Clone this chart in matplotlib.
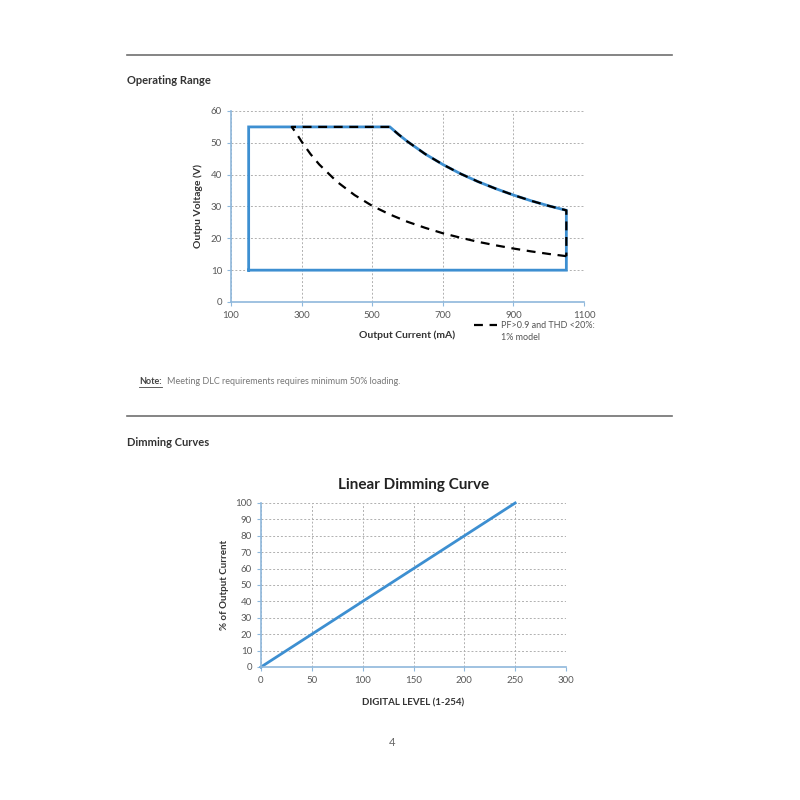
import matplotlib
matplotlib.use("Agg")
import matplotlib.pyplot as plt

plt.rcParams['font.family'] = ['Lato', 'DejaVu Sans']

# ---- Operating range data ----
box_current = [150, 150, 550, 575, 600, 650, 700, 750, 800, 850, 900, 950, 1000, 1050, 1050, 150]
box_voltage = [10, 55, 55, 52.6, 50.4, 46.5, 43.2, 40.3, 37.8, 35.6, 33.6, 31.8, 30.2, 28.8, 10, 10]

pf_current = [1050, 1000, 950, 900, 850, 800, 750, 700, 650, 600, 550, 500, 450, 400, 350, 325, 300, 285, 272,
              550, 575, 600, 650, 700, 750, 800, 850, 900, 950, 1000, 1050, 1050]
pf_voltage = [14.4, 15.1, 15.9, 16.8, 17.8, 18.9, 20.2, 21.6, 23.3, 25.2, 27.5, 30.2, 33.6, 37.8, 43.2, 46.5, 50.4, 53, 55,
              55, 52.6, 50.4, 46.5, 43.2, 40.3, 37.8, 35.6, 33.6, 31.8, 30.2, 28.8, 14.4]

op_xticks = [100, 300, 500, 700, 900, 1100]
op_yticks = [0, 10, 20, 30, 40, 50, 60]
legend_lines = ["PF>0.9 and THD <20%:", "1% model"]

# ---- Dimming data ----
digital_level = [0, 250]
pct_output = [0, 100]
dim_xticks = [0, 50, 100, 150, 200, 250, 300]
dim_yticks = list(range(0, 101, 10))

BLUE = '#3d8fd1'
AXIS = '#8fb8dc'
GRID = '#b0b0b0'
TICK = '#595959'

fig = plt.figure(figsize=(8, 8), dpi=100)
fig.patch.set_facecolor('white')

# page decorations
for yy in [1 - 55/800, 1 - 416/800]:
    fig.add_artist(plt.Line2D([127/800, 672/800], [yy, yy], color='#707070', lw=1.2))
fig.text(127/800, 1 - 80/800, "Operating Range", fontsize=8, fontweight='bold', color='#333333', va='center')
fig.text(127/800, 1 - 442/800, "Dimming Curves", fontsize=8, fontweight='bold', color='#333333', va='center')
fig.text(139/800, 1 - 382/800, "Note:", fontsize=6.5, fontweight='bold', color='#444444', va='center')
fig.text(167/800, 1 - 382/800, "Meeting DLC requirements requires minimum 50% loading.", fontsize=6.5, color='#777777', va='center')
fig.add_artist(plt.Line2D([139/800, 162/800], [1 - 386.5/800, 1 - 386.5/800], color='#444444', lw=0.6))
fig.text(392/800, 1 - 743/800, "4", fontsize=8, color='#666666', ha='center', va='center')


def style(ax):
    for s in ['top', 'right']:
        ax.spines[s].set_visible(False)
    for s in ['left', 'bottom']:
        ax.spines[s].set_color(AXIS)
        ax.spines[s].set_linewidth(1.2)
    ax.grid(True, color=GRID, linestyle=(0, (2, 2)), linewidth=0.7)
    ax.set_axisbelow(True)
    ax.tick_params(colors=AXIS, labelcolor=TICK, labelsize=7, length=3, width=0.8)


# ---- Operating range chart ----
ax1 = fig.add_axes([231/800, 1 - 302/800, 353/800, 191/800])
style(ax1)
ax1.set_xlim(100, 1100)
ax1.set_ylim(0, 60)
ax1.set_xticks(op_xticks)
ax1.set_yticks(op_yticks)
ax1.plot(box_current, box_voltage, color=BLUE, lw=2, solid_joinstyle='miter', clip_on=False)
ax1.plot(pf_current, pf_voltage, color='black', lw=1.6, linestyle=(0, (4, 3)), clip_on=False)
ax1.set_xlabel("Output Current (mA)", fontsize=7.5, fontweight='bold', color='#333333')
ax1.xaxis.set_label_coords(0.5, -0.15)
ax1.set_ylabel("Outpu Voltage (V)", fontsize=7.5, fontweight='bold', color='#333333')
ax1.yaxis.set_label_coords(-0.08, 0.5)
fig.add_artist(plt.Line2D([474/800, 497/800], [1 - 325/800, 1 - 325/800], color='black', lw=1.6, linestyle=(0, (4, 3))))
fig.text(501/800, 1 - 325/800, legend_lines[0], fontsize=6.5, color='#555555', va='center')
fig.text(501/800, 1 - 337/800, legend_lines[1], fontsize=6.5, color='#555555', va='center')

# ---- Dimming chart ----
ax2 = fig.add_axes([261/800, 1 - 667/800, 305/800, 164/800])
style(ax2)
ax2.set_xlim(0, 300)
ax2.set_ylim(0, 100)
ax2.set_xticks(dim_xticks)
ax2.set_yticks(dim_yticks)
ax2.plot(digital_level, pct_output, color=BLUE, lw=2, clip_on=False)
ax2.set_title("Linear Dimming Curve", fontsize=11, fontweight='bold', color='#222222', pad=10)
ax2.set_xlabel("DIGITAL LEVEL (1-254)", fontsize=7, fontweight='bold', color='#333333')
ax2.xaxis.set_label_coords(0.5, -0.19)
ax2.set_ylabel("% of Output Current", fontsize=7, fontweight='bold', color='#333333')
ax2.yaxis.set_label_coords(-0.105, 0.5)

fig.savefig("out.png", dpi=100, facecolor='white')
